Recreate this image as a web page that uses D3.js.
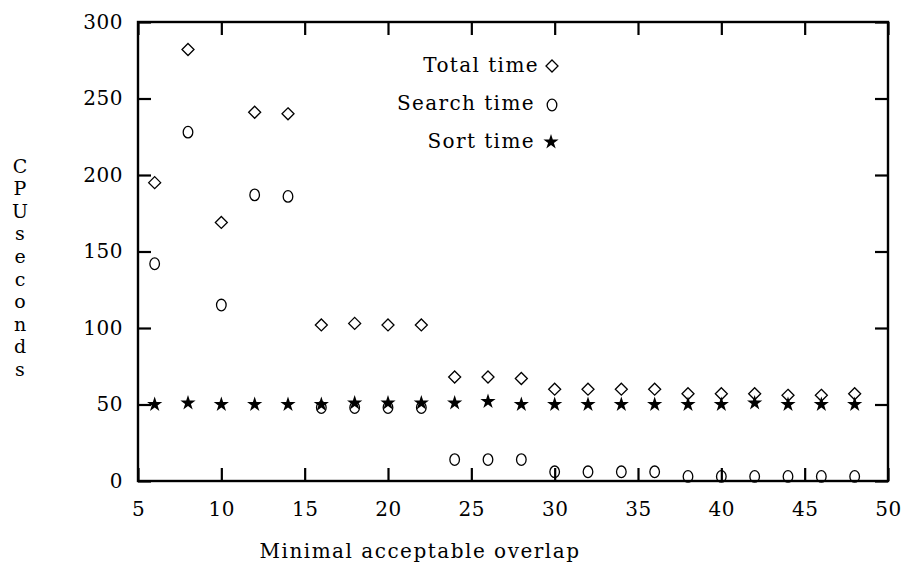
<!DOCTYPE html>
<html>
<head>
<meta charset="utf-8">
<script src="https://cdn.jsdelivr.net/npm/d3@7"></script>
<style>
  html, body { margin: 0; padding: 0; background: #fff; }
  svg { display: block; }
  text { font-family: "DejaVu Serif", "Liberation Serif", serif; fill: #000; }
</style>
</head>
<body>
<script>
// Minimal acceptable overlap vs CPU seconds
const overlap = [6, 8, 10, 12, 14, 16, 18, 20, 22, 24, 26, 28, 30, 32, 34, 36, 38, 40, 42, 44, 46, 48];
const totalTime = [195, 282, 169, 241, 240, 102, 103, 102, 102, 68, 68, 67, 60, 60, 60, 60, 57, 57, 57, 56, 56, 57];
const searchTime = [142, 228, 115, 187, 186, 48, 48, 48, 48, 14, 14, 14, 6, 6, 6, 6, 3, 3, 3, 3, 3, 3];
const sortTime = [50, 51, 50, 50, 50, 50, 51, 51, 51, 51, 52, 50, 50, 50, 50, 50, 50, 50, 51, 50, 50, 50];
const xTicks = [5, 10, 15, 20, 25, 30, 35, 40, 45, 50];
const yTicks = [0, 50, 100, 150, 200, 250, 300];
const yTitle = ["C", "P", "U", "s", "e", "c", "o", "n", "d", "s"];
const legendLabels = ["Total time", "Search time", "Sort time"];

const W = 905, H = 569;
const svg = d3.select("body").append("svg").attr("width", W).attr("height", H);

const x = d3.scaleLinear().domain([5, 50]).range([138, 888]);
const y = d3.scaleLinear().domain([0, 300]).range([481, 22]);

const tickLen = 13;
const fontSize = 20;

// axes with inward ticks on all four sides
function styleAxis(g) {
  g.select(".domain").remove();
  g.selectAll(".tick line").attr("stroke", "#000").attr("stroke-width", 2.2);
  g.selectAll(".tick text")
    .attr("font-family", '"DejaVu Serif", serif')
    .attr("font-size", fontSize)
    .attr("letter-spacing", 0.5)
    .attr("fill", "#000");
}

svg.append("g")
  .attr("transform", `translate(0,${y(0)})`)
  .call(d3.axisBottom(x).tickValues(xTicks).tickFormat(d3.format("d"))
    .tickSizeInner(-tickLen).tickSizeOuter(0).tickPadding(21))
  .call(styleAxis);

svg.append("g")
  .attr("transform", `translate(0,${y(300)})`)
  .call(d3.axisTop(x).tickValues(xTicks).tickFormat("")
    .tickSizeInner(-tickLen).tickSizeOuter(0))
  .call(styleAxis);

svg.append("g")
  .attr("transform", `translate(${x(5)},0)`)
  .call(d3.axisLeft(y).tickValues(yTicks).tickFormat(d3.format("d"))
    .tickSizeInner(-tickLen).tickSizeOuter(0).tickPadding(15))
  .call(styleAxis);

svg.append("g")
  .attr("transform", `translate(${x(50)},0)`)
  .call(d3.axisRight(y).tickValues(yTicks).tickFormat("")
    .tickSizeInner(-tickLen).tickSizeOuter(0))
  .call(styleAxis);

// plot frame
svg.append("rect")
  .attr("x", x(5)).attr("y", y(300))
  .attr("width", x(50) - x(5)).attr("height", y(0) - y(300))
  .attr("fill", "none").attr("stroke", "#000").attr("stroke-width", 2.4);

// axis titles
svg.append("text")
  .attr("x", 420).attr("y", 558)
  .attr("text-anchor", "middle")
  .attr("font-size", fontSize)
  .attr("letter-spacing", 1.5)
  .text("Minimal acceptable overlap");

// vertical title: one letter per line, evenly stacked
const yTitleTop = 166, yTitleStep = 22.6;
svg.append("text")
  .attr("font-size", 19)
  .attr("text-anchor", "middle")
  .selectAll("tspan").data(yTitle).join("tspan")
  .attr("x", 20)
  .attr("y", (d, i) => yTitleTop + i * yTitleStep)
  .attr("dy", "0.35em")
  .text(d => d);

// marker shapes
const diamondR = 6;
function diamondPath(cx, cy, r) {
  return `M${cx},${cy - r}L${cx + r},${cy}L${cx},${cy + r}L${cx - r},${cy}Z`;
}
const star = d3.symbol().type(d3.symbolStar).size(72);

function drawDiamonds(g, xs, ys) {
  g.selectAll("path").data(xs.map((d, i) => [d, ys[i]])).join("path")
    .attr("d", d => diamondPath(x(d[0]), y(d[1]), diamondR))
    .attr("fill", "none").attr("stroke", "#000").attr("stroke-width", 1.3);
}
function drawCircles(g, xs, ys) {
  g.selectAll("ellipse").data(xs.map((d, i) => [d, ys[i]])).join("ellipse")
    .attr("cx", d => x(d[0])).attr("cy", d => y(d[1]))
    .attr("rx", 4.8).attr("ry", 5.8)
    .attr("fill", "none").attr("stroke", "#000").attr("stroke-width", 1.3);
}
function drawStars(g, xs, ys) {
  g.selectAll("path").data(xs.map((d, i) => [d, ys[i]])).join("path")
    .attr("transform", d => `translate(${x(d[0])},${y(d[1])})`)
    .attr("d", star)
    .attr("fill", "#000");
}

drawDiamonds(svg.append("g"), overlap, totalTime);
drawCircles(svg.append("g"), overlap, searchTime);
drawStars(svg.append("g"), overlap, sortTime);

// legend
const legendRows = [
  { label: legendLabels[0], cy: 65, endX: 539, mx: 552, kind: "diamond" },
  { label: legendLabels[1], cy: 103, endX: 535, mx: 552, kind: "circle" },
  { label: legendLabels[2], cy: 141, endX: 535, mx: 551, kind: "star" }
];
const lg = svg.append("g");
legendRows.forEach(r => {
  lg.append("text")
    .attr("x", r.endX).attr("y", r.cy)
    .attr("dy", "0.35em")
    .attr("text-anchor", "end")
    .attr("font-size", fontSize)
    .attr("letter-spacing", 1.4)
    .text(r.label);
  if (r.kind === "diamond") {
    lg.append("path").attr("d", diamondPath(r.mx, r.cy + 1, diamondR))
      .attr("fill", "none").attr("stroke", "#000").attr("stroke-width", 1.3);
  } else if (r.kind === "circle") {
    lg.append("ellipse").attr("cx", r.mx).attr("cy", r.cy + 2)
      .attr("rx", 4.8).attr("ry", 5.8)
      .attr("fill", "none").attr("stroke", "#000").attr("stroke-width", 1.3);
  } else {
    lg.append("path").attr("transform", `translate(${r.mx},${r.cy + 1})`)
      .attr("d", star).attr("fill", "#000");
  }
});
</script>
</body>
</html>
